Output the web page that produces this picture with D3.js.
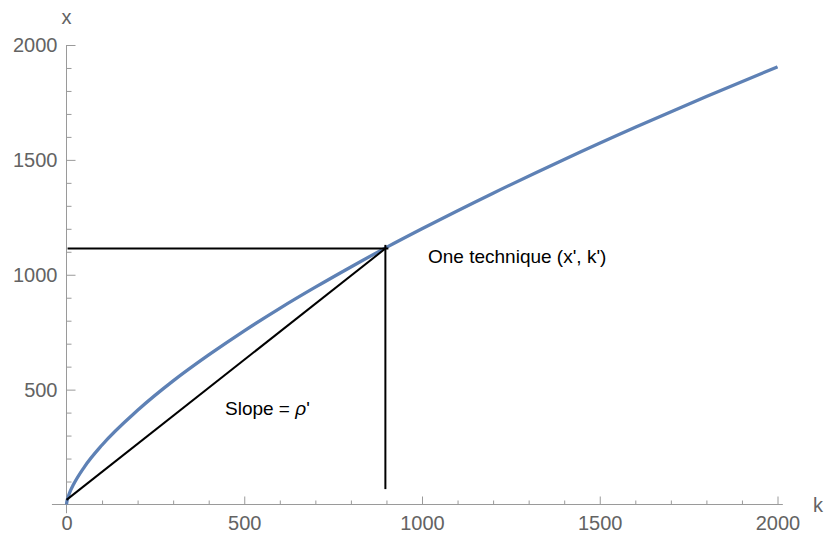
<!DOCTYPE html>
<html>
<head>
<meta charset="utf-8">
<script src="https://cdn.jsdelivr.net/npm/d3@7"></script>
<style>
  body { margin: 0; background: #fff; }
  svg { font-family: "Liberation Sans", Arial, sans-serif; }
</style>
</head>
<body>
<svg id="chart" width="825" height="535"></svg>
<script>
// curve points (k, x)
var curve_k = [0, 1, 2, 5, 10, 20, 50, 100, 200, 300, 400, 500, 600, 700, 800, 900, 1000, 1200, 1400, 1600, 1800, 2000]
var curve_x = [0, 12, 19, 35, 56, 88, 163, 259, 410, 538, 651, 756, 854, 946, 1034, 1119, 1200, 1355, 1502, 1642, 1776, 1905]

// the technique point and its guide lines
var point_k = 897
var point_x = 1114
var guide_top = 1130
var guide_bottom = 67
var ray_start = [0, 20]

var major_ticks = [0, 500, 1000, 1500, 2000]
var minor_ticks = d3.range(0, 2001, 100)
var y_major = [500, 1000, 1500, 2000]

var svg = d3.select("#chart")

var x = d3.scaleLinear().domain([0, 2000]).range([66.5, 777.5])
var y = d3.scaleLinear().domain([0, 2000]).range([504.5, 45])

var axis_col = "#9a9a9a"
var fmt = d3.format("d")

// x axis
var gx = svg.append("g").attr("transform", "translate(0," + y(0) + ")")
gx.append("line").attr("x1", x(-41)).attr("x2", x(2015)).attr("stroke", axis_col)
gx.append("g").call(d3.axisBottom(x).tickValues(minor_ticks.filter(d => d % 500 != 0)).tickSize(-4).tickFormat(""))
gx.append("g").call(d3.axisBottom(x).tickValues(major_ticks).tickSize(-8).tickPadding(11).tickFormat(fmt))
gx.selectAll(".domain").remove()

// y axis
var gy = svg.append("g").attr("transform", "translate(" + x(0) + ",0)")
gy.append("line").attr("y1", y(-38)).attr("y2", y(2000)).attr("stroke", axis_col)
gy.append("g").call(d3.axisLeft(y).tickValues(minor_ticks.filter(d => d % 500 != 0)).tickSize(-5).tickFormat(""))
gy.append("g").call(d3.axisLeft(y).tickValues(y_major).tickSize(-9).tickPadding(9).tickFormat(fmt))
gy.selectAll(".domain").remove()

svg.selectAll(".tick line").attr("stroke", axis_col)
svg.selectAll(".tick text").attr("fill", "#636363").style("font-size", "20px").style("font-family", "Liberation Sans, Arial, sans-serif")

svg.append("text").attr("x", x(0)).attr("y", 24).attr("text-anchor", "middle")
  .attr("fill", "#636363").style("font-size", "20px").text("x")
svg.append("text").attr("x", 818).attr("y", y(0) + 7).attr("text-anchor", "middle")
  .attr("fill", "#636363").style("font-size", "20px").text("k")

// curve
var pts = curve_k.map((k, i) => [k, curve_x[i]])
svg.append("path")
  .datum(pts)
  .attr("fill", "none")
  .attr("stroke", "#5e81b5")
  .attr("stroke-width", 3.3)
  .attr("d", d3.line().x(d => x(d[0])).y(d => y(d[1])).curve(d3.curveMonotoneX))

// guide lines
var g = svg.append("g").attr("stroke", "black").attr("stroke-width", 2)
g.append("line").attr("x1", x(3)).attr("x2", x(point_k) + 3).attr("y1", y(point_x)).attr("y2", y(point_x))
g.append("line").attr("x1", x(point_k)).attr("x2", x(point_k)).attr("y1", y(guide_top)).attr("y2", y(guide_bottom))
g.append("line").attr("x1", x(ray_start[0])).attr("y1", y(ray_start[1])).attr("x2", x(point_k)).attr("y2", y(point_x))

// labels
svg.append("text").attr("x", 428).attr("y", 263).style("font-size", "19px").text("One technique (x', k')")
var sl = svg.append("text").attr("x", 225).attr("y", 415).style("font-size", "19px")
sl.append("tspan").text("Slope = ")
sl.append("tspan").style("font-style", "italic").text("ρ")
sl.append("tspan").text("'")
</script>
</body>
</html>
